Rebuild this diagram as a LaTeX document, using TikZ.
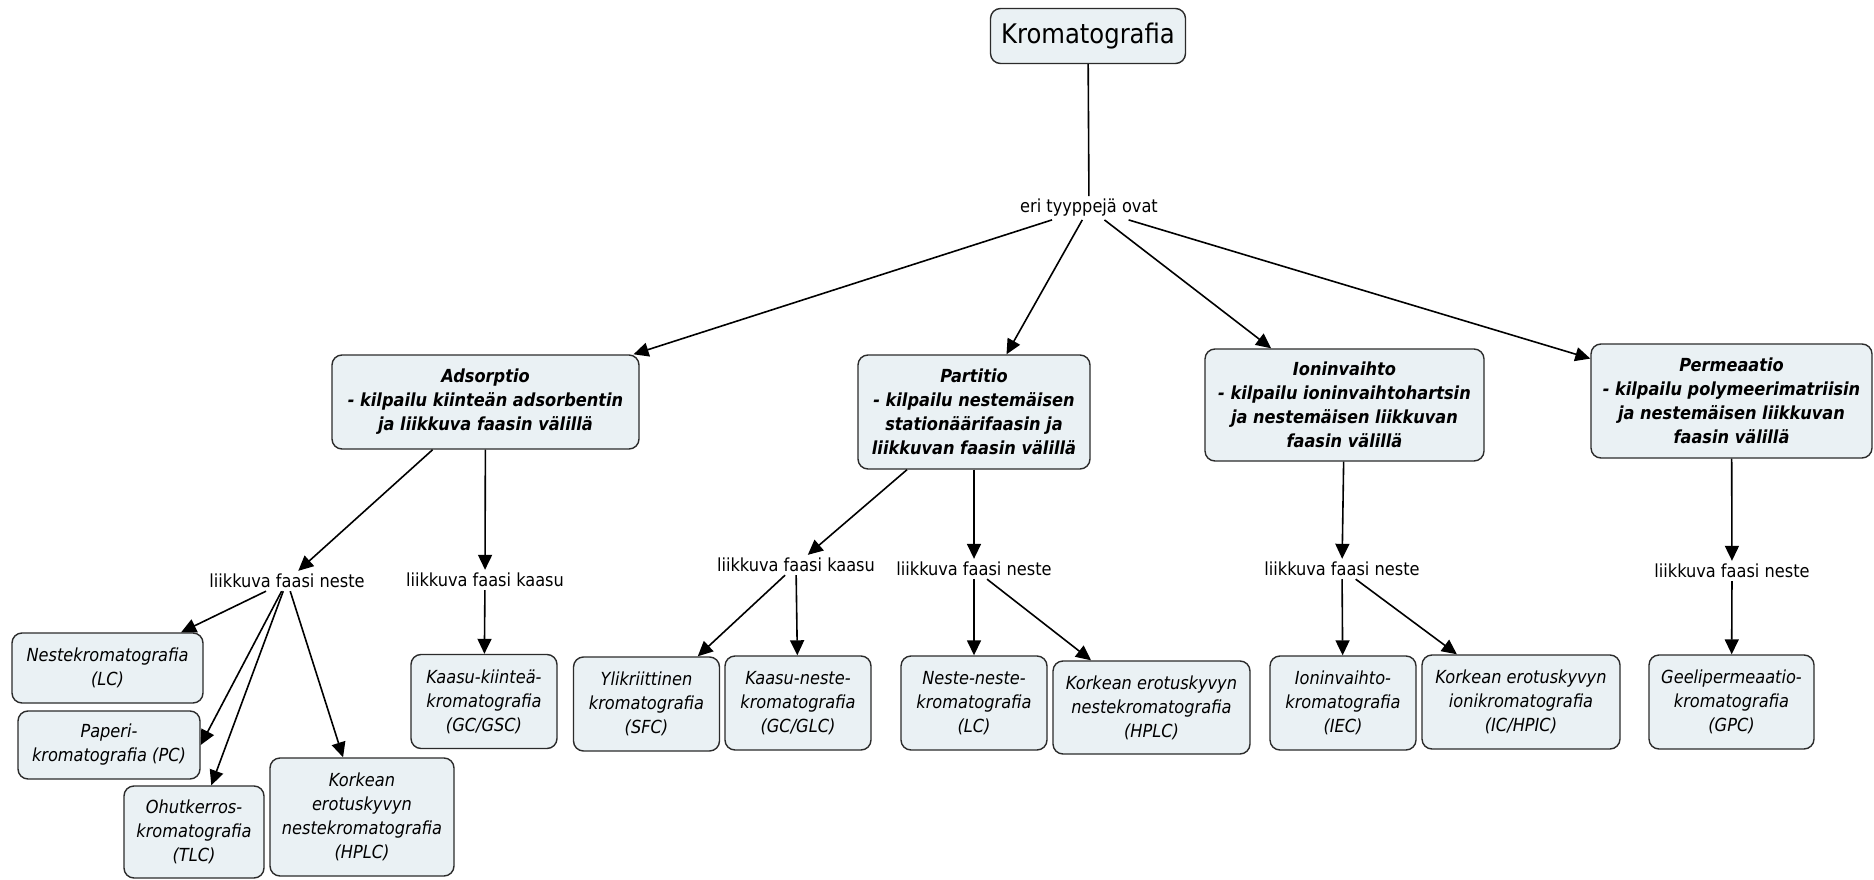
\documentclass[tikz,border=0pt]{standalone}
\usepackage{fontspec}
\setmainfont{DejaVu Sans Condensed}
\usetikzlibrary{arrows.meta}
\definecolor{boxfill}{HTML}{EAF1F4}
\definecolor{boxline}{HTML}{2B2B2B}

\tikzset{
  concept/.style={draw=boxline, fill=boxfill, rounded corners=10pt, line width=1.4pt,
    align=center, inner sep=3pt, font=\itshape\fontsize{18}{24}\selectfont},
  head/.style={concept, font=\bfseries\itshape\fontsize{18}{24}\selectfont},
  leaf/.style={concept, minimum width=146pt, minimum height=94pt},
  phrase/.style={inner sep=3pt, font=\fontsize{18}{24}\selectfont},
  arr/.style={-{Triangle[length=15pt,width=14pt]}, line width=1.6pt}
}

\begin{document}
\begin{tikzpicture}[x=1pt,y=-1pt]
  \useasboundingbox (0,0) rectangle (1874,880);

  \node[concept, font=\fontsize{27}{30}\selectfont, minimum width=195pt, minimum height=55pt]
    (krom) at (1088,36) {Kromatografia};
  \node[phrase] (eri) at (1089,208) {eri tyyppejä ovat};

  \node[head, minimum width=307pt, minimum height=94pt] (ads) at (485.5,402)
    {Adsorptio\\- kilpailu kiinteän adsorbentin\\ja liikkuva faasin välillä};
  \node[head, minimum width=232pt, minimum height=114pt] (par) at (974,412)
    {Partitio\\- kilpailu nestemäisen\\stationäärifaasin ja\\liikkuvan faasin välillä};
  \node[head, minimum width=279pt, minimum height=112pt] (ion) at (1344.5,405)
    {Ioninvaihto\\- kilpailu ioninvaihtohartsin\\ja nestemäisen liikkuvan\\faasin välillä};
  \node[head, minimum width=281pt, minimum height=114pt] (perm) at (1731.5,401)
    {Permeaatio\\- kilpailu polymeerimatriisin\\ja nestemäisen liikkuvan\\faasin välillä};

  \node[phrase] (adsN) at (287,581) {liikkuva faasi neste};
  \node[phrase] (adsK) at (485,580) {liikkuva faasi kaasu};
  \node[phrase] (parK) at (796,565) {liikkuva faasi kaasu};
  \node[phrase] (parN) at (974,569) {liikkuva faasi neste};
  \node[phrase] (ionN) at (1342,569) {liikkuva faasi neste};
  \node[phrase] (permN) at (1732,571) {liikkuva faasi neste};

  \node[leaf, minimum width=191pt, minimum height=70pt] (lc) at (107.5,668)
    {Nestekromatografia\\(LC)};
  \node[leaf, minimum width=182pt, minimum height=68pt] (pc) at (109,745)
    {Paperi-\\kromatografia (PC)};
  \node[leaf, minimum width=140pt, minimum height=92pt] (tlc) at (194,832)
    {Ohutkerros-\\kromatografia\\(TLC)};
  \node[leaf, minimum width=184pt, minimum height=118pt] (hplcA) at (362,817)
    {Korkean\\erotuskyvyn\\nestekromatografia\\(HPLC)};
  \node[leaf] (gsc) at (484,701.5) {Kaasu-kiinteä-\\kromatografia\\(GC/GSC)};
  \node[leaf] (sfc) at (646.5,704) {Ylikriittinen\\kromatografia\\(SFC)};
  \node[leaf] (glc) at (798,703) {Kaasu-neste-\\kromatografia\\(GC/GLC)};
  \node[leaf] (llc) at (974,703) {Neste-neste-\\kromatografia\\(LC)};
  \node[leaf, minimum width=197pt, minimum height=93pt] (hplcP) at (1151.5,707.5)
    {Korkean erotuskyvyn\\nestekromatografia\\(HPLC)};
  \node[leaf] (iec) at (1343,703) {Ioninvaihto-\\kromatografia\\(IEC)};
  \node[leaf, minimum width=198pt] (hpic) at (1521,702)
    {Korkean erotuskyvyn\\ionikromatografia\\(IC/HPIC)};
  \node[leaf, minimum width=165pt] (gpc) at (1731.5,702)
    {Geelipermeaatio-\\kromatografia\\(GPC)};

  \draw[line width=1.6pt] (krom) -- (eri);

  \path[arr]
    (eri) edge (ads)
          edge (par)
          edge (ion)
          edge (perm)
    (ads) edge (adsN)
          edge (adsK)
    (adsN) edge (lc)
           edge (pc.east)
           edge (tlc)
           edge (hplcA)
    (adsK) edge (gsc)
    (par) edge (parK)
          edge (parN)
    (parK) edge (sfc)
           edge (glc)
    (parN) edge (llc)
           edge (hplcP)
    (ion) edge (ionN)
    (ionN) edge (iec)
           edge (hpic)
    (perm) edge (permN)
    (permN) edge (gpc);
\end{tikzpicture}
\end{document}
